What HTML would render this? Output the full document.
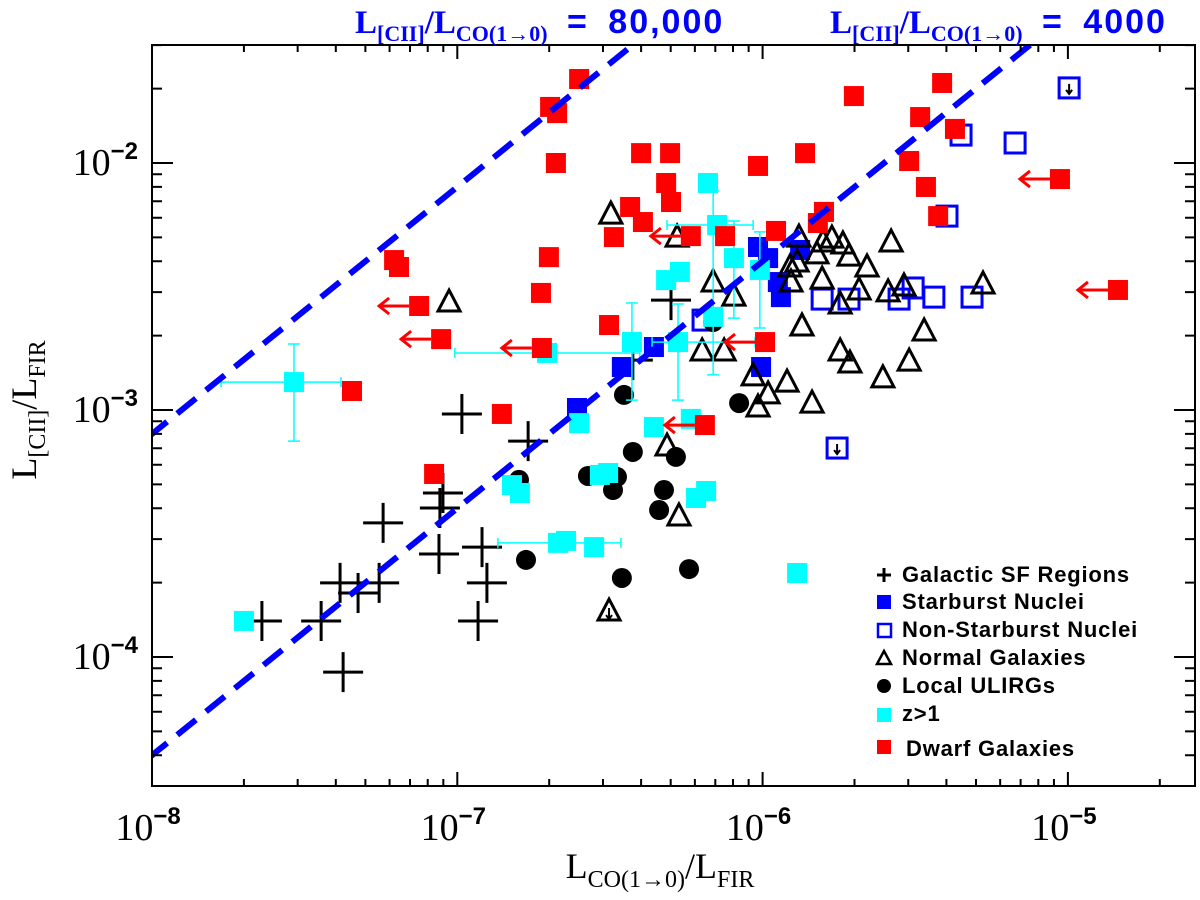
<!DOCTYPE html>
<html><head><meta charset="utf-8">
<style>
html,body{margin:0;padding:0;background:#fff;}
svg{display:block;}
text{font-family:"Liberation Serif",serif;}
.leg{font-family:"Liberation Sans",sans-serif;font-weight:bold;font-size:22px;letter-spacing:0.8px;}
</style></head>
<body>
<svg id="chart" width="1200" height="900" viewBox="0 0 1200 900">
<defs><clipPath id="plotclip"><rect x="152" y="45" width="1043" height="741"/></clipPath></defs>
<g id="marks" clip-path="url(#plotclip)"></g>
<g id="axes"></g>
</svg>
<script>
// ---- data (log10 values) ----
const sfLogX=[-6.985,-6.768,-7.047,-7.057,-7.243,-7.060,-6.919,-6.903,-7.384,-7.325,-7.256,-7.640,-7.446,-6.932,-7.374,-6.300,-6.425];
const sfLogY=[-3.016,-3.126,-3.336,-3.397,-3.457,-3.583,-3.555,-3.700,-3.700,-3.741,-3.700,-3.854,-3.854,-3.854,-4.061,-2.555,-2.798];
const sbLogX=[-6.015,-5.982,-5.877,-5.950,-5.940,-6.005,-6.356,-6.461,-6.608];
const sbLogY=[-2.340,-2.385,-2.352,-2.482,-2.543,-2.826,-2.745,-2.826,-2.992];
const nsLogX=[-4.996,-5.350,-5.173,-5.396,-5.805,-5.717,-5.553,-5.507,-5.439,-5.314,-5.756,-6.195];
const nsLogY=[-1.696,-1.887,-1.919,-2.215,-2.551,-2.551,-2.551,-2.506,-2.543,-2.543,-3.154,-2.636];
const nsUpper=[1,0,0,0,0,0,0,0,0,0,1,0];
const ngLogX=[-7.027,-6.497,-6.280,-6.162,-6.094,-6.198,-6.126,-5.881,-5.822,-5.802,-5.773,-5.737,-5.717,-5.658,-5.579,-5.910,-5.887,-5.907,-5.805,-5.684,-5.746,-5.589,-5.537,-5.278,-5.871,-5.471,-5.746,-5.714,-5.520,-5.606,-5.920,-6.031,-5.982,-6.015,-5.838,-6.313,-6.274,-6.503];
const ngLogY=[-2.567,-2.211,-2.304,-2.486,-2.543,-2.765,-2.765,-2.304,-2.372,-2.324,-2.308,-2.332,-2.381,-2.425,-2.324,-2.425,-2.405,-2.486,-2.474,-2.518,-2.575,-2.526,-2.502,-2.494,-2.664,-2.684,-2.765,-2.814,-2.806,-2.874,-2.891,-2.866,-2.939,-2.992,-2.976,-3.150,-3.433,-3.818];
const ngUpper=[0,0,0,0,0,0,0,0,0,0,0,0,0,0,0,0,0,0,0,0,0,0,0,0,0,0,0,0,0,0,0,0,0,0,0,0,0,1];
const ulLogX=[-6.454,-6.798,-6.425,-6.284,-6.572,-6.477,-6.490,-6.323,-6.339,-6.775,-6.461,-6.241,-6.077,-6.162];
const ulLogY=[-2.939,-3.283,-3.170,-3.190,-3.267,-3.271,-3.324,-3.324,-3.405,-3.607,-3.680,-3.644,-2.972,-2.644];
const hzLogX=[-6.179,-6.149,-6.094,-6.009,-6.316,-6.271,-6.162,-6.277,-6.428,-6.706,-7.535,-6.601,-6.356,-6.235,-6.821,-6.795,-6.533,-6.506,-6.218,-6.185,-6.670,-6.644,-6.552,-5.887,-7.699];
const hzLogY=[-2.081,-2.251,-2.385,-2.433,-2.474,-2.441,-2.623,-2.725,-2.725,-2.769,-2.887,-3.053,-3.069,-3.036,-3.304,-3.336,-3.263,-3.255,-3.356,-3.328,-3.538,-3.530,-3.555,-3.660,-3.854];
const hzXLo=[null,-6.313,null,null,null,null,null,-6.362,null,-7.008,-7.774,null,null,null,null,null,null,null,null,null,-6.867,null,null,null,null];
const hzXHi=[null,-6.031,null,null,null,null,null,-6.025,null,-6.402,-7.381,null,null,null,null,null,null,null,null,null,-6.464,null,null,null,null];
const hzYLo=[null,null,-2.628,-2.668,null,null,-2.858,-2.960,-2.960,null,-3.126,null,null,null,null,null,null,null,null,null,null,null,null,null,null];
const hzYHi=[null,null,-2.235,-2.279,null,null,-2.113,-2.571,-2.567,null,-2.733,null,null,null,null,null,null,null,null,null,null,null,null,null,null];
const dwLogX=[-6.601,-6.696,-6.673,-6.677,-6.700,-6.726,-7.207,-7.191,-7.125,-7.053,-7.345,-6.723,-6.503,-6.854,-7.076,-6.398,-6.303,-6.316,-6.300,-6.434,-6.392,-6.487,-6.235,-6.123,-6.015,-5.861,-5.701,-5.412,-5.484,-5.370,-5.520,-5.465,-5.026,-5.425,-5.799,-5.819,-5.956,-4.836,-5.992,-6.189];
const dwLogY=[-1.660,-1.773,-1.798,-2.000,-2.381,-2.526,-2.393,-2.421,-2.579,-2.713,-2.923,-2.749,-2.656,-3.016,-3.259,-1.960,-1.960,-2.081,-2.158,-2.178,-2.239,-2.300,-2.296,-2.296,-2.012,-1.960,-1.729,-1.676,-1.814,-1.862,-1.992,-2.097,-2.065,-2.215,-2.198,-2.243,-2.275,-2.514,-2.725,-3.061];
const dwUpperX=[0,0,0,0,0,0,0,0,1,1,0,1,0,0,0,0,0,0,0,0,0,0,1,0,0,0,0,0,0,0,0,0,1,0,0,0,0,1,1,1];
const ratioLines=[80000,4000];
const xTickExp=[-8,-7,-6,-5];
const yTickExp=[-4,-3,-2];

// ---- axes ----
const X0=152,X1=1195,Y0=45,Y1=786;
const XMIN=-8,XMAX=-8+(X1-X0)/305.3, YMAX=-2+118/247, YMIN=-2-(Y1-163)/247;
function sx(l){return X0+(l-XMIN)/(XMAX-XMIN)*(X1-X0);}
function sy(l){return Y1-(l-YMIN)/(YMAX-YMIN)*(Y1-Y0);}
const NS='http://www.w3.org/2000/svg';
const marks=document.getElementById('marks'),axes=document.getElementById('axes');
function mk(tag,attrs,parent){const e=document.createElementNS(NS,tag);for(const k in attrs)e.setAttribute(k,attrs[k]);(parent||marks).appendChild(e);return e;}

// Galactic SF
sfLogX.forEach((lx,i)=>{const x=sx(lx),y=sy(sfLogY[i]);
 const g=mk('g',{});
 
 
 mk('path',{d:`M${x-20} ${y}H${x+20}M${x} ${y-20}V${y+20}`,stroke:'#000','stroke-width':3,fill:'none'},g);});
// Non-starburst
nsLogX.forEach((lx,i)=>{const x=sx(lx),y=sy(nsLogY[i]);
 const g=mk('g',{});
 
 
 mk('rect',{x:x-10,y:y-10,width:20,height:20,fill:'none',stroke:'#0000ff','stroke-width':3},g);
 if(nsUpper[i])mk('path',{d:`M${x} ${y-4}V${y+5}M${x-3} ${y+2}L${x} ${y+6}L${x+3} ${y+2}`,stroke:'#000','stroke-width':2,fill:'none'},g);});
// Starburst
sbLogX.forEach((lx,i)=>{const x=sx(lx),y=sy(sbLogY[i]);
 const r=mk('rect',{x:x-10,y:y-10,width:20,height:20,fill:'#0000ff'});
 
 });
// Normal galaxies
ngLogX.forEach((lx,i)=>{const x=sx(lx),y=sy(ngLogY[i]);
 const g=mk('g',{});
 
 
 mk('path',{d:`M${x} ${y-13}L${x+11} ${y+8}L${x-11} ${y+8}Z`,fill:'none',stroke:'#000','stroke-width':3},g);
 if(ngUpper[i])mk('path',{d:`M${x} ${y-4}V${y+6}M${x-3} ${y+3}L${x} ${y+7}L${x+3} ${y+3}`,stroke:'#000','stroke-width':2,fill:'none'},g);});
// ULIRGs
ulLogX.forEach((lx,i)=>{const c=mk('circle',{cx:sx(lx),cy:sy(ulLogY[i]),r:10,fill:'#000'});
 
 });
// z>1
hzLogX.forEach((lx,i)=>{const x=sx(lx),y=sy(hzLogY[i]);
 const g=mk('g',{});
 
 
 const st={stroke:'#00ffff','stroke-width':1.5,fill:'none'};
 if(hzXLo[i]!==null){const a=sx(hzXLo[i]),b=sx(hzXHi[i]);mk('path',Object.assign({d:`M${a} ${y}H${b}M${a} ${y-5}V${y+5}M${b} ${y-5}V${y+5}`},st),g);}
 if(hzYLo[i]!==null){const a=sy(hzYLo[i]),b=sy(hzYHi[i]);mk('path',Object.assign({d:`M${x} ${a}V${b}M${x-6} ${a}H${x+6}M${x-6} ${b}H${x+6}`},st),g);}
 mk('rect',{x:x-10,y:y-10,width:20,height:20,fill:'#00ffff'},g);});
// Dwarfs
dwLogX.forEach((lx,i)=>{const x=sx(lx),y=sy(dwLogY[i]);
 const g=mk('g',{});
 
 
 if(dwUpperX[i])mk('path',{d:`M${x-10} ${y}H${x-40}M${x-30} ${y-8}L${x-40} ${y}L${x-30} ${y+8}`,stroke:'#ff0000','stroke-width':3,fill:'none'},g);
 mk('rect',{x:x-10,y:y-10,width:20,height:20,fill:'#ff0000'},g);});
// Ratio lines
ratioLines.forEach(r=>{const lr=Math.log10(r);const a=XMIN-0.2,b=XMAX;
 const p=mk('line',{x1:sx(a),y1:sy(a+lr),x2:sx(b),y2:sy(b+lr),stroke:'#0000ff','stroke-width':6,'stroke-dasharray':'24 13'});
 
 });

// frame and ticks
const fr=mk('rect',{x:X0,y:Y0,width:X1-X0,height:Y1-Y0,fill:'none',stroke:'#000','stroke-width':2},axes);


let td='';
for(let d=-8;d<=-5;d++)for(let m=1;m<=9;m++){const l=d+Math.log10(m);if(l>XMAX)continue;const x=sx(l),L=m==1?14:7;td+=`M${x} ${Y1}V${Y1-L}M${x} ${Y0}V${Y0+L}`;}
for(let d=-5;d<=-2;d++)for(let m=1;m<=9;m++){const l=d+Math.log10(m);if(l<YMIN||l>YMAX)continue;const y=sy(l),L=m==1?21:10;td+=`M${X0} ${y}H${X0+L}M${X1} ${y}H${X1-L}`;}
const tk=mk('path',{d:td,stroke:'#000','stroke-width':2,fill:'none'},axes);


xTickExp.forEach(e=>{const t=mk('text',{x:sx(e)-4,y:840,'text-anchor':'middle','font-size':38},axes);
 
 
 t.innerHTML=`10<tspan dy="-16" font-size="24" font-family="Liberation Sans" font-weight="bold">−${-e}</tspan>`;});
yTickExp.forEach(e=>{const t=mk('text',{x:138,y:sy(e)+12,'text-anchor':'end','font-size':38},axes);
 
 
 t.innerHTML=`10<tspan dy="-16" font-size="24" font-family="Liberation Sans" font-weight="bold">−${-e}</tspan>`;});
</script>
<svg width="1200" height="900" style="position:absolute;left:0;top:0;">
<text x="660" y="878" text-anchor="middle" font-size="36" font-family="Liberation Serif">L<tspan dy="9" font-size="24">CO(1→0)</tspan><tspan dy="-9">/L</tspan><tspan dy="9" font-size="24">FIR</tspan></text>
<text transform="translate(36,410) rotate(-90)" text-anchor="middle" font-size="36" font-family="Liberation Serif">L<tspan dy="9" font-size="24">[CII]</tspan><tspan dy="-9">/L</tspan><tspan dy="9" font-size="24">FIR</tspan></text>
<text x="355" y="33" font-size="33" font-family="Liberation Serif" font-weight="bold" fill="#0000ff">L<tspan dy="8" font-size="22">[CII]</tspan><tspan dy="-8">/L</tspan><tspan dy="8" font-size="22">CO(1→0)</tspan><tspan dy="-8" font-family="Liberation Sans" font-size="34" letter-spacing="2" word-spacing="8"> = 80,000</tspan></text>
<text x="830" y="33" font-size="33" font-family="Liberation Serif" font-weight="bold" fill="#0000ff">L<tspan dy="8" font-size="22">[CII]</tspan><tspan dy="-8">/L</tspan><tspan dy="8" font-size="22">CO(1→0)</tspan><tspan dy="-8" font-family="Liberation Sans" font-size="34" letter-spacing="2" word-spacing="8"> = 4000</tspan></text>
<defs><clipPath id="legclip"><rect x="860" y="550" width="334" height="230"/></clipPath></defs>
<g clip-path="url(#legclip)">
<g><path d="M877 575H891M884 568V582" stroke="#000" stroke-width="3"/><text class="leg" x="902" y="582">Galactic SF Regions</text></g>
<g><rect x="877" y="595" width="14" height="14" fill="#0000ff"/><text class="leg" x="902" y="609">Starburst Nuclei</text></g>
<g><rect x="878" y="624" width="13" height="13" fill="none" stroke="#0000ff" stroke-width="2.5"/><text class="leg" x="902" y="637">Non-Starburst Nuclei</text></g>
<g><path d="M884 651L891 664H877Z" fill="none" stroke="#000" stroke-width="2.5"/><text class="leg" x="902" y="665">Normal Galaxies</text></g>
<g><circle cx="884" cy="686" r="7" fill="#000"/><text class="leg" x="902" y="693">Local ULIRGs</text></g>
<g><rect x="877" y="708" width="14" height="14" fill="#00ffff"/><text class="leg" x="902" y="721">z&gt;1</text></g>
<g><rect x="877" y="740" width="14" height="14" fill="#ff0000"/><text class="leg" x="906" y="756">Dwarf Galaxies</text></g>
</g>
</svg>
</body></html>
